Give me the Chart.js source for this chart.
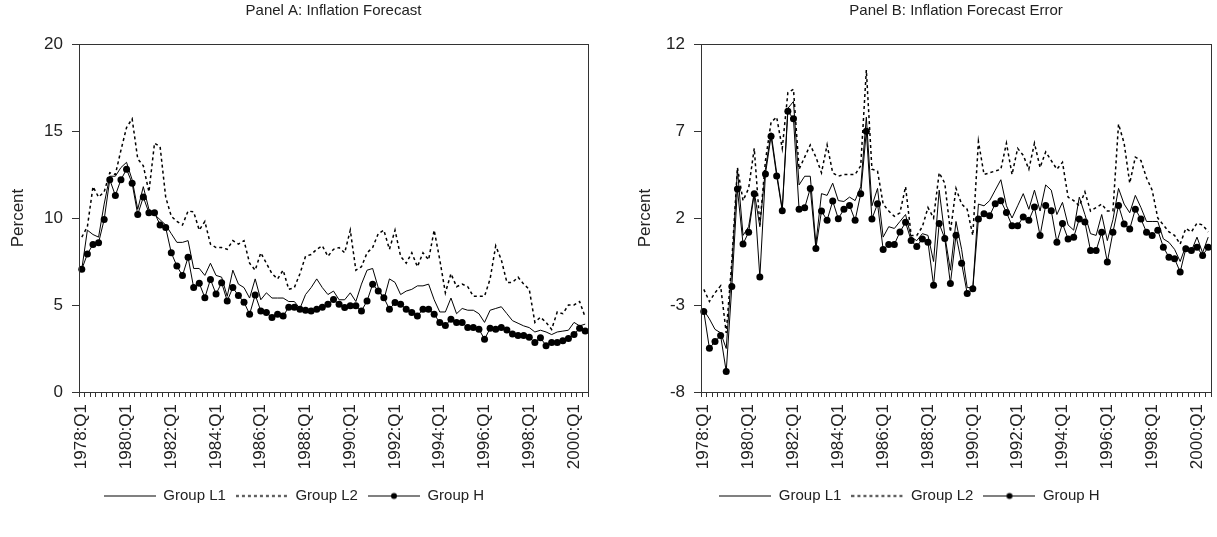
<!DOCTYPE html>
<html>
<head>
<meta charset="utf-8">
<script src="https://cdn.jsdelivr.net/npm/chart.js@4.4.1/dist/chart.umd.min.js"></script>
<style>
  html, body { margin: 0; padding: 0; background: #fff; }
  #wrap { position: relative; width: 1217px; height: 537px; }
  .panel { position: absolute; top: 0; height: 537px; }
  #panelA { left: 0; width: 608px; }
  #panelB { left: 608px; width: 609px; }
</style>
</head>
<body>
<div id="wrap">
  <div class="panel" id="panelA"><canvas id="chartA"></canvas></div>
  <div class="panel" id="panelB"><canvas id="chartB"></canvas></div>
</div>
<script>
// quarters 1978:Q1 .. 2000:Q3
const quarters = [];
for (let y = 1978; y <= 2000; y++) {
  for (let q = 1; q <= 4; q++) {
    if (y === 2000 && q > 3) break;
    quarters.push(y + ':Q' + q);
  }
}

const seriesNames = ['Group L1', 'Group L2', 'Group H'];

// Panel A: inflation forecast (percent)
const forecastL1 = [
  7.05, 9.3, 9.05, 8.9, 10.8, 12.4, 12.4, 12.9, 13.2, 12.2,
  10.5, 11.8, 10.5, 10.2, 9.9, 9.6, 9.1, 8.6, 8.6, 8.7,
  7.1, 7.1, 6.7, 7.4, 6.7, 6.6, 5.5, 7.0, 6.2, 6.0,
  5.4, 6.5, 5.3, 5.7, 5.4, 5.4, 5.4, 5.2, 5.2, 4.8,
  5.6, 6.0, 6.5, 6.0, 5.6, 5.8, 5.3, 5.3, 5.7, 5.2,
  6.2, 7.0, 7.1, 6.0, 5.3, 6.5, 6.3, 5.6, 5.8, 5.9,
  6.1, 6.1, 6.2, 5.3, 4.6, 4.6, 5.4, 4.5, 4.8, 4.7,
  4.7, 4.5, 4.0, 4.7, 4.8, 4.9, 4.5, 4.1, 3.95, 3.8,
  3.7, 3.45, 3.55, 3.45, 3.3, 3.45, 3.5, 3.55, 4.0, 3.8,
  3.9
];
const forecastL2 = [
  8.9, 9.5, 11.8, 11.2, 11.5, 12.6, 12.5, 13.9, 15.2, 15.7,
  13.4, 13.0, 11.5, 14.3, 14.1, 11.2, 10.1, 9.8, 9.6, 10.4,
  10.35, 9.3, 9.8, 8.5, 8.3, 8.3, 8.2, 8.7, 8.5, 8.7,
  7.4, 7.0, 8.0, 7.4, 6.8, 6.5, 7.0, 5.9, 6.0, 6.8,
  7.8, 7.9, 8.2, 8.4, 7.8, 8.2, 8.3, 8.0, 9.3, 7.0,
  7.2, 8.0, 8.3, 9.1, 9.3, 8.2, 9.3, 7.8, 7.4, 8.0,
  7.2, 8.0, 7.6, 9.3, 7.6, 5.7, 6.8, 6.05, 6.2, 6.05,
  5.5, 5.5, 5.5, 6.5, 8.4, 7.6, 6.3, 6.3, 6.6, 6.2,
  5.9, 4.0, 4.3, 4.0, 3.6, 4.6, 4.5, 5.0, 5.0, 5.2,
  4.3
];
const forecastH = [
  7.05, 7.93, 8.48, 8.58, 9.91, 12.2, 11.3, 12.2, 12.8, 12.0,
  10.2, 11.2, 10.3, 10.3, 9.6, 9.45, 8.0, 7.24, 6.69, 7.74,
  6.0, 6.25, 5.42, 6.47, 5.63, 6.28, 5.23, 6.0, 5.54, 5.16,
  4.47, 5.58, 4.66, 4.57, 4.28, 4.47, 4.37, 4.87, 4.87, 4.76,
  4.7, 4.66, 4.76, 4.87, 5.04, 5.31, 5.04, 4.85, 4.95, 4.95,
  4.66, 5.23, 6.19, 5.81, 5.42, 4.76, 5.14, 5.04, 4.76, 4.57,
  4.37, 4.76, 4.76, 4.47, 3.99, 3.82, 4.18, 3.99, 3.99, 3.7,
  3.7, 3.61, 3.03, 3.66, 3.6, 3.7, 3.56, 3.33, 3.24, 3.24,
  3.14, 2.85, 3.12, 2.66, 2.85, 2.85, 2.95, 3.08, 3.31, 3.66,
  3.5
];

// Panel B: inflation forecast error (percent)
const errorL1 = [
  -3.3, -3.8, -4.4, -4.6, -5.5, -0.9, 4.8, 1.0, 1.5, 3.5,
  1.5, 4.8, 6.9, 4.6, 2.5, 8.3, 8.7, 3.9, 4.4, 4.4,
  0.5, 3.4, 3.3, 4.0, 3.0, 2.95, 3.2, 3.0, 3.8, 7.8,
  2.7, 3.7, 0.9, 1.5, 1.4, 1.8, 2.2, 0.9, 0.7, 1.1,
  1.0, -0.5, 3.6, 1.0, -1.0, 1.8, 0.2, -2.0, -2.0, 2.8,
  2.7, 3.0, 3.6, 4.2, 2.7, 2.0, 2.7, 3.4, 2.5, 3.6,
  2.4, 3.9, 3.6, 2.2, 2.9, 1.6, 1.3, 3.2, 2.2, 1.1,
  1.0, 2.2, 0.7, 1.9, 3.7, 2.8, 2.3, 3.3, 2.6, 1.8,
  1.8, 1.8, 0.8, 0.6, 0.2, -0.5, 0.4, 0.1, 0.9, 0.0,
  0.9
];
const errorL2 = [
  -2.1, -2.8, -2.3, -1.9, -4.6, -0.5, 4.9, 3.0, 3.7, 6.0,
  1.6, 5.3, 7.5, 7.8, 6.0, 9.2, 9.4, 4.8, 5.5, 6.2,
  5.5, 4.6, 6.2, 4.6, 4.4, 4.5, 4.5, 4.5, 5.0, 10.5,
  4.8, 4.7, 2.8, 2.4, 2.1, 2.3, 3.8, 1.0, 1.0, 1.5,
  2.6, 2.0, 4.6, 4.0, 1.2, 3.7, 2.8, 2.5, 1.0, 6.4,
  4.5, 4.6, 4.7, 4.8, 6.3, 4.5, 6.0, 5.6, 4.8, 6.3,
  4.9, 5.8, 5.3, 4.8, 5.2, 3.2, 3.0, 2.7, 3.5, 2.4,
  2.6, 2.8, 2.4, 2.4, 7.4, 6.3, 4.0, 5.5, 5.3, 4.3,
  3.6, 2.0, 1.6, 1.2, 1.0, 0.5, 1.4, 1.2, 1.7, 1.6,
  1.2
];
const errorH = [
  -3.37, -5.49, -5.1, -4.76, -6.82, -1.94, 3.66, 0.51, 1.18, 3.39,
  -1.39, 4.53, 6.70, 4.42, 2.42, 8.13, 7.70, 2.51, 2.59, 3.70,
  0.25, 2.4, 1.87, 2.97, 1.96, 2.51, 2.72, 1.87, 3.39, 6.99,
  1.94, 2.82, 0.19, 0.48, 0.48, 1.2, 1.75, 0.70, 0.36, 0.80,
  0.61, -1.87, 1.68, 0.82, -1.77, 1.01, -0.6, -2.34, -2.06, 1.94,
  2.25, 2.13, 2.82, 2.99, 2.32, 1.56, 1.56, 2.06, 1.87, 2.63,
  0.99, 2.72, 2.42, 0.61, 1.68, 0.80, 0.90, 1.94, 1.77, 0.13,
  0.13, 1.18, -0.53, 1.18, 2.72, 1.66, 1.37, 2.51, 1.94, 1.18,
  0.99, 1.30, 0.32, -0.25, -0.34, -1.10, 0.23, 0.13, 0.32, -0.15,
  0.32
];

const FONT = "'Liberation Sans', Arial, sans-serif";
const INK = '#222';

// little legend samples: line (solid or dotted), optional dot in the middle
function legendSample(dash, dot) {
  const c = document.createElement('canvas');
  c.width = 52; c.height = 10;
  const g = c.getContext('2d');
  g.strokeStyle = '#000';
  g.lineWidth = dash.length ? 1.5 : 1;
  g.setLineDash(dash);
  g.beginPath(); g.moveTo(0, 5.5); g.lineTo(52, 5.5); g.stroke();
  if (dot) {
    g.fillStyle = '#000';
    g.beginPath(); g.arc(26, 5.5, 3, 0, Math.PI * 2); g.fill();
  }
  return c;
}
const samples = [legendSample([], false), legendSample([3, 3], false), legendSample([], true)];

const frameBox = {
  id: 'frameBox',
  afterDatasetsDraw(chart) {
    const a = chart.chartArea, ctx = chart.ctx;
    ctx.save();
    ctx.strokeStyle = '#333';
    ctx.lineWidth = 1;
    ctx.strokeRect(Math.round(a.left) + 0.5, Math.round(a.top) + 0.5,
                   Math.round(a.right - a.left), Math.round(a.bottom - a.top));
    ctx.restore();
  }
};

function makeChart(id, title, l1, l2, h, yMin, yMax, yWidth, yTitlePad, padRight) {
  const ctx = document.getElementById(id).getContext('2d');
  return new Chart(ctx, {
    type: 'line',
    data: {
      labels: quarters,
      datasets: [{
        label: seriesNames[0],
        data: l1,
        borderColor: '#000',
        borderWidth: 1,
        pointRadius: 0,
        tension: 0
      }, {
        label: seriesNames[1],
        data: l2,
        borderColor: '#000',
        borderWidth: 1.5,
        borderDash: [3, 3],
        pointRadius: 0,
        tension: 0
      }, {
        label: seriesNames[2],
        data: h,
        borderColor: '#000',
        borderWidth: 1,
        pointRadius: 3.5,
        pointBackgroundColor: '#000',
        pointBorderWidth: 0,
        tension: 0
      }]
    },
    options: {
      responsive: true,
      maintainAspectRatio: false,
      animation: false,
      layout: { padding: { left: 0, right: padRight, top: 0, bottom: 24 } },
      scales: {
        x: {
          type: 'category',
          offset: true,
          grid: { offset: true, drawOnChartArea: false, tickLength: 5, color: '#333' },
          border: { display: true, color: '#333' },
          ticks: {
            autoSkip: false,
            minRotation: 90,
            maxRotation: 90,
            padding: 7,
            color: INK,
            font: { family: FONT, size: 17 },
            callback: function (value, index) {
              return index % 8 === 0 ? this.getLabelForValue(value) : '';
            }
          },
          afterFit: function (scale) {
            scale.height = 86;
            scale.paddingLeft = 0;
            scale.paddingRight = 0;
          }
        },
        y: {
          min: yMin,
          max: yMax,
          grid: { drawOnChartArea: false, tickLength: 7, color: '#333' },
          border: { display: true, color: '#333' },
          ticks: { stepSize: 5, padding: 9, color: INK, font: { family: FONT, size: 17 } },
          title: {
            display: true,
            text: 'Percent',
            color: INK,
            padding: { top: yTitlePad, bottom: 0 },
            font: { family: FONT, size: 17 }
          },
          afterFit: function (scale) { scale.width = yWidth; }
        }
      },
      plugins: {
        title: {
          display: true,
          text: title,
          fullSize: false,
          color: INK,
          padding: { top: 2, bottom: 24 },
          font: { family: FONT, size: 15, weight: 'normal' }
        },
        legend: {
          position: 'bottom',
          labels: {
            usePointStyle: true,
            pointStyleWidth: 52,
            padding: 10,
            color: INK,
            font: { family: FONT, size: 15 },
            generateLabels: function (chart) {
              const items = Chart.defaults.plugins.legend.labels.generateLabels(chart);
              items.forEach(function (it, i) { it.pointStyle = samples[i]; });
              return items;
            }
          }
        },
        tooltip: { enabled: false }
      }
    },
    plugins: [frameBox]
  });
}

makeChart('chartA', 'Panel A: Inflation Forecast', forecastL1, forecastL2, forecastH, 0, 20, 79, 8, 20);
makeChart('chartB', 'Panel B: Inflation Forecast Error', errorL1, errorL2, errorH, -8, 12, 93, 27, 6);
</script>
</body>
</html>
